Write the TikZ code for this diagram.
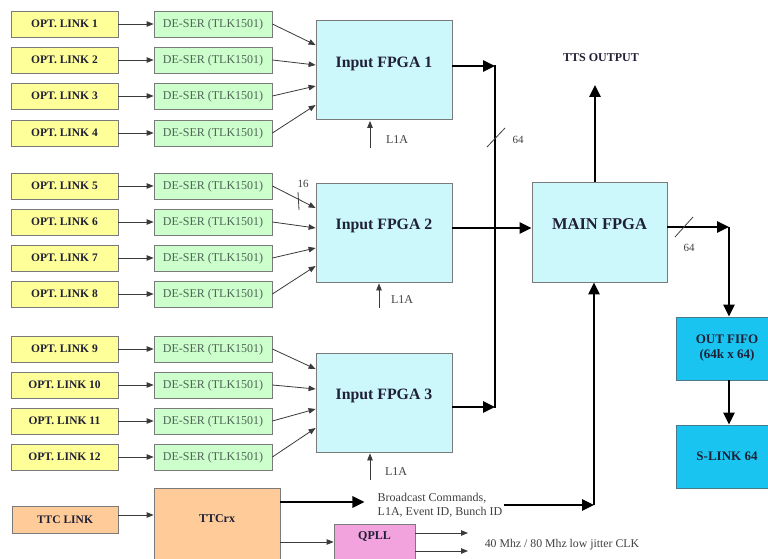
\documentclass[tikz,border=0pt]{standalone}
\usepackage{fontspec}
\setmainfont{Liberation Serif}
\usetikzlibrary{arrows.meta,calc}
\definecolor{optfill}{HTML}{FFFF99}
\definecolor{desfill}{HTML}{CCFFCC}
\definecolor{fpgafill}{HTML}{CCF8FB}
\definecolor{cyanfill}{HTML}{19C5F0}
\definecolor{orgfill}{HTML}{FFCC99}
\definecolor{pinkfill}{HTML}{F2A2DC}
\definecolor{boxedge}{HTML}{7A7A7A}
\definecolor{cyanedge}{HTML}{4A7A8A}
\definecolor{txtdark}{HTML}{1F1F35}
\definecolor{destext}{HTML}{4F6457}
\definecolor{lineclr}{HTML}{3A3A3A}
\definecolor{lbl}{HTML}{404040}
\begin{document}
\begin{tikzpicture}[x=1pt,y=-1pt,
  boxbase/.style={draw=boxedge, line width=0.8pt, inner sep=0pt, text=txtdark},
  optbox/.style={boxbase, fill=optfill, minimum width=107pt, minimum height=26pt, font=\bfseries\fontsize{11.5}{13}\selectfont},
  desbox/.style={boxbase, fill=desfill, minimum width=118pt, minimum height=26pt, font=\fontsize{12}{14}\selectfont, text=destext, text height=8pt, text depth=1pt},
  fpgabox/.style={boxbase, fill=fpgafill, minimum width=136pt, minimum height=99pt, font=\bfseries\fontsize{15.8}{18}\selectfont, text height=11pt, text depth=16.5pt},
  cyanbox/.style={boxbase, draw=cyanedge, fill=cyanfill, minimum width=102pt, minimum height=63pt, font=\bfseries\fontsize{13}{15}\selectfont, align=center},
  lblnode/.style={inner sep=1pt, text=lbl, font=\fontsize{12}{14}\selectfont},
  sig/.style={draw=lineclr, line width=0.8pt, -{Triangle[length=7pt,width=5.5pt]}},
  bus/.style={draw=black, line width=2.6pt},
  busarrow/.style={bus, -{Triangle[length=12pt,width=11pt]}},
  slash/.style={draw=lbl, line width=0.8pt}
]
\useasboundingbox (0,0) rectangle (768,559);
\clip (0,0) rectangle (768,559);
\fill[white] (0,0) rectangle (768,559);

% optical links and deserializers
\foreach \i/\y in {1/24,2/60,3/96,4/133,5/186,6/222,7/258,8/294,9/349,10/385,11/421,12/457}{
  \node[optbox] (o\i) at (64.5,\y) {OPT. LINK \i};
  \node[desbox] (d\i) at (213,\y) {DE-SER (TLK1501)};
  \draw[sig] (o\i.east) -- (d\i.west);
}

% input FPGAs
\node[fpgabox] (f1) at (384,70) {Input FPGA 1};
\node[fpgabox] (f2) at (384,232.5) {Input FPGA 2};
\node[fpgabox] (f3) at (384,402.5) {Input FPGA 3};

\foreach \i/\f/\ey in {1/f1/45,2/f1/65,3/f1/86,4/f1/105,5/f2/208,6/f2/228,7/f2/248,8/f2/266,9/f3/369,10/f3/389,11/f3/409,12/f3/428}{
  \draw[sig] (d\i.east) -- (\f.west |- 0,\ey);
}

% 16 marker
\draw[slash] (298,192) -- (299,210);
\node[lblnode, font=\fontsize{11}{13}\selectfont] (n16) at (303,184) {16};

% L1A inputs
\draw[sig] ([xshift=-14pt,yshift=-28pt]f1.south) -- ([xshift=-14pt,yshift=-1pt]f1.south);
\node[lblnode] (l1) at (397,140) {L1A};
\draw[sig] ([xshift=-5pt,yshift=-26pt]f2.south) -- ([xshift=-5pt,yshift=-1pt]f2.south);
\node[lblnode] (l2) at (402,300) {L1A};
\draw[sig] ([xshift=-14pt,yshift=-28pt]f3.south) -- ([xshift=-14pt,yshift=-1pt]f3.south);
\node[lblnode] (l3) at (396,472) {L1A};

% main FPGA
\node[fpgabox, minimum width=135pt, minimum height=100pt, font=\bfseries\fontsize{16.5}{18}\selectfont] (main) at (599.5,232) {MAIN FPGA};
\node[lblnode, font=\bfseries\fontsize{12}{14}\selectfont, text=txtdark] (tts) at (601,58) {TTS OUTPUT};

% bus from input FPGAs
\coordinate (b1) at (495,66);
\coordinate (b3) at (495,407);
\draw[bus, line cap=rect] (b1) -- (b3);
\draw[busarrow] (f1.east |- b1) -- (b1);
\draw[busarrow] (f3.east |- b3) -- (b3);
\draw[busarrow] (f2.east |- 0,228) -- (main.west |- 0,228);
\draw[slash] (487,147) -- (505,128);
\node[lblnode, font=\fontsize{11}{13}\selectfont] (n64a) at (518,140) {64};

% TTS output
\draw[busarrow] ([xshift=-4.5pt]main.north) -- ([xshift=-4.5pt]main.north |- 0,85);

% output chain
\node[cyanbox] (fifo) at (727,348.5) {OUT FIFO\\(64k x 64)};
\node[cyanbox] (slink) at (727,456.5) {S-LINK 64};
\coordinate (c2) at (729,227);
\draw[busarrow] (main.east |- c2) -- (c2);
\draw[busarrow] (c2) -- (c2 |- fifo.north);
\draw[busarrow] (fifo.south -| c2) -- (c2 |- slink.north);
\draw[slash] (675,237) -- (693,217);
\node[lblnode, font=\fontsize{11}{13}\selectfont] (n64b) at (689,248) {64};

% TTC section
\node[boxbase, fill=orgfill, minimum width=106pt, minimum height=27pt, font=\bfseries\fontsize{11.5}{13}\selectfont] (ttclink) at (65,519.5) {TTC LINK};
\node[boxbase, fill=orgfill, minimum width=126pt, minimum height=90pt, font=\bfseries\fontsize{12}{14}\selectfont, text height=8pt, text depth=30pt] (ttcrx) at (217,533) {TTCrx};
\node[boxbase, fill=pinkfill, minimum width=81pt, minimum height=60pt, font=\bfseries\fontsize{12}{14}\selectfont, text height=8pt, text depth=38pt] (qpll) at (374.5,554) {QPLL};
\draw[sig] (ttclink.east |- 0,515) -- (ttcrx.west |- 0,515);
\draw[sig] (ttcrx.east |- 0,542) -- (qpll.west |- 0,542);

\node[lblnode, align=left, font=\fontsize{12}{14}\selectfont] (bc) at (440,505) {Broadcast Commands,\\L1A, Event ID, Bunch ID};
\draw[busarrow, shorten >=12pt] (ttcrx.east |- 0,502) -- (bc.west |- 0,502);
\coordinate (c3) at (594,505);
\draw[busarrow] (bc.east |- c3) -- (c3);
\draw[busarrow] (c3) -- (c3 |- main.south);

\coordinate (ck1) at (468,533);
\coordinate (ck2) at (468,551);
\draw[sig] (qpll.east |- ck1) -- (ck1);
\draw[sig] (qpll.east |- ck2) -- (ck2);
\node[lblnode, font=\fontsize{11.8}{14}\selectfont] (clk) at (562,545) {40 Mhz / 80 Mhz low jitter CLK};
\end{tikzpicture}
\end{document}
